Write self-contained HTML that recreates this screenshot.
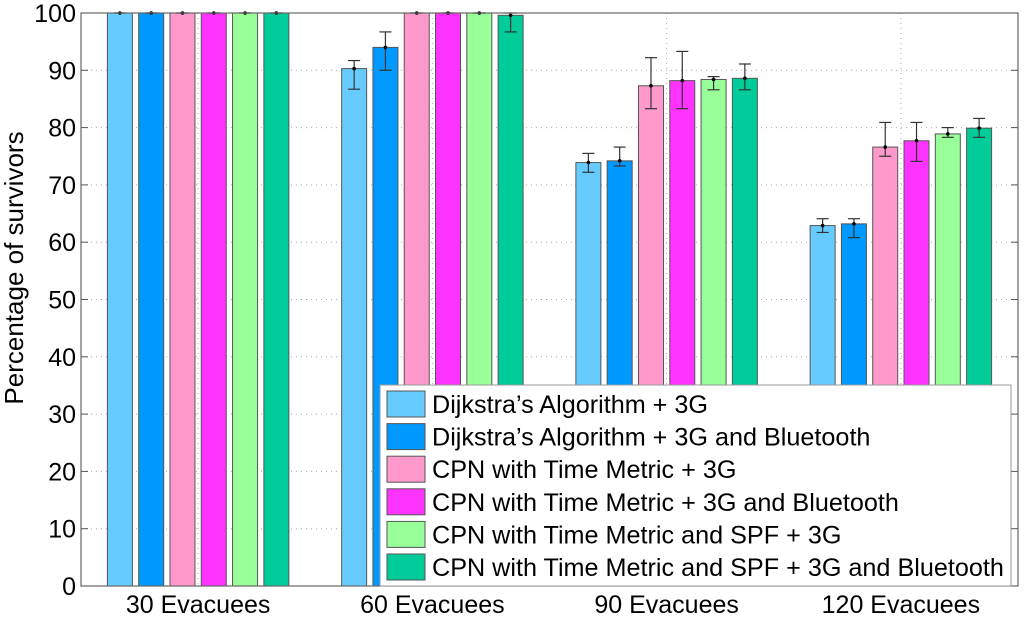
<!DOCTYPE html>
<html><head><meta charset="utf-8"><style>
html,body{margin:0;padding:0;background:#fff;}
svg text{font-family:"Liberation Sans",Arial,sans-serif;fill:#000;}
</style></head><body>
<svg id="chart" width="1024" height="618" xmlns="http://www.w3.org/2000/svg"></svg>
<script>
const categories = ["30 Evacuees","60 Evacuees","90 Evacuees","120 Evacuees"];
const seriesNames = ["Dijkstra\u2019s Algorithm + 3G","Dijkstra\u2019s Algorithm + 3G and Bluetooth","CPN with Time Metric + 3G","CPN with Time Metric + 3G and Bluetooth","CPN with Time Metric and SPF + 3G","CPN with Time Metric and SPF + 3G and Bluetooth"];
const colors = ["#66ccff","#0099ff","#ff99cc","#ff33ff","#99ff99","#00cc99"];
const dijkstra3G = [100, 90.3, 73.9, 62.9];
const dijkstraBT = [100, 94.0, 74.2, 63.2];
const cpn3G = [100, 100, 87.3, 76.6];
const cpnBT = [100, 100, 88.2, 77.7];
const cpnSpf3G = [100, 100, 88.4, 78.9];
const cpnSpfBT = [100, 99.6, 88.6, 79.9];
const errLow = [[100,86.7,72.2,61.7],[100,90.0,73.3,60.8],[100,100,83.3,75.0],[100,100,83.3,74.1],[100,100,86.6,78.3],[100,96.7,86.6,78.3]];
const errHigh = [[100,91.7,75.5,64.1],[100,96.7,76.6,64.1],[100,100,92.2,80.9],[100,100,93.3,80.9],[100,100,88.9,80.0],[100,100,91.1,81.6]];
const yTicks = [0,10,20,30,40,50,60,70,80,90,100];
const series = [dijkstra3G,dijkstraBT,cpn3G,cpnBT,cpnSpf3G,cpnSpfBT];

const L=81,R=1018,T=13,B=586;
const xs = v => L + (v-0.5)/4*(R-L);
const ys = v => B - v/100*(B-T);
const NS="http://www.w3.org/2000/svg";
const svg=document.getElementById('chart');
function mk(tag,attrs,parent){const e=document.createElementNS(NS,tag);for(const k in attrs)e.setAttribute(k,attrs[k]);(parent||svg).appendChild(e);return e;}

yTicks.forEach(t=>{
  const g=mk('line',{x1:L,x2:R,y1:ys(t),y2:ys(t),stroke:'#aaa','stroke-dasharray':'1,4'});
  
  
  const tk=mk('line',{x1:L,x2:L+7,y1:ys(t),y2:ys(t),stroke:'#555'});
  
  
  const tk2=mk('line',{x1:R-7,x2:R,y1:ys(t),y2:ys(t),stroke:'#555'});
  
  
  const lb=mk('text',{x:L-5,y:ys(t)+9,'text-anchor':'end','font-size':25});
  lb.textContent=t;
  
  
});
categories.forEach((c,i)=>{
  const x=xs(i+1);
  const g=mk('line',{x1:x,x2:x,y1:T,y2:B,stroke:'#aaa','stroke-dasharray':'1,4'});
  
  
  const lb=mk('text',{x:x,y:613,'text-anchor':'middle','font-size':25});
  lb.textContent=c;
  
  
});
const step=(R-L)/4*0.1336, bw=25;
series.forEach((s,si)=>{
  s.forEach((v,ci)=>{
    const cx=xs(ci+1)+(si-2.5)*step;
    const r=mk('rect',{x:cx-bw/2,y:ys(v),width:bw,height:B-ys(v),fill:colors[si],stroke:'#555','stroke-width':1});
    
    
    const lo=ys(errLow[si][ci]),hi=ys(errHigh[si][ci]);
    const eg=mk('g',{stroke:'#333','stroke-width':1.2});
    
    
    mk('line',{x1:cx,x2:cx,y1:lo,y2:hi},eg);
    mk('line',{x1:cx-6,x2:cx+6,y1:lo,y2:lo},eg);
    mk('line',{x1:cx-6,x2:cx+6,y1:hi,y2:hi},eg);
    mk('circle',{cx:cx,cy:ys(v),r:1.8,fill:'#000',stroke:'none'},eg);
  });
});
const ax=mk('rect',{x:L,y:T,width:R-L,height:B-T,fill:'none',stroke:'#666','stroke-width':1.2});


const yl=mk('text',{x:0,y:0,transform:'translate(23,268) rotate(-90)','text-anchor':'middle','font-size':26});
yl.textContent='Percentage of survivors';


const lg=mk('g',{});


mk('rect',{x:380,y:385,width:631,height:201,fill:'#fff',stroke:'#999','stroke-width':1},lg);
seriesNames.forEach((n,i)=>{
  const y=391+i*32.6;
  const e=mk('g',{},lg);
  
  
  mk('rect',{x:387,y:y,width:38,height:26,fill:colors[i],stroke:'#555'},e);
  const t=mk('text',{x:432,y:y+22,'font-size':25.2},e);
  t.textContent=n;
});
</script>
</body></html>
